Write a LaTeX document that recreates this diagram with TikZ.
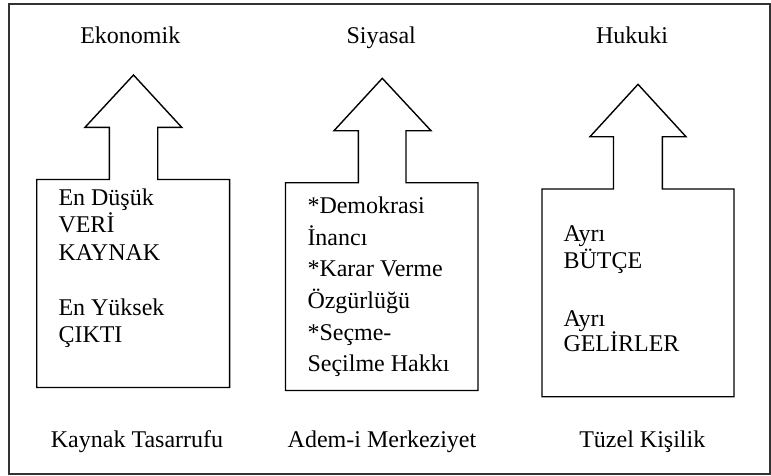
\documentclass[tikz,border=0pt]{standalone}
\usepackage{fontspec}
\setmainfont{Liberation Serif}
\newfontfamily\tnr{Liberation Serif}
\begin{document}
\begin{tikzpicture}[x=1pt,y=-1pt,
  lbl/.style={font=\tnr\fontsize{24}{27.6}\selectfont, inner sep=0pt},
  linetxt/.style={lbl, anchor=base west},
  toptxt/.style={lbl, anchor=base},
  arrowbox/.style={draw, line width=1.4pt, line join=miter}]
\useasboundingbox (0,0) rectangle (771,475);
\draw[line width=2pt, black!80] (9,3.5) rectangle (769.5,473.5);

% arrow-boxes
\draw[arrowbox] (36.7,387.5) -- (36.7,179.5) -- (109.3,179.5) -- (109.3,127.3) -- (85,127.3)
  -- (133.5,75) -- (181.7,127.3) -- (157.7,127.3) -- (157.7,179.5) -- (229.6,179.5) -- (229.6,387.5) -- cycle;
\draw[arrowbox] (285.5,390.5) -- (285.5,182.7) -- (358.3,182.7) -- (358.3,130.7) -- (334,130.7)
  -- (382.3,78.3) -- (431,130.7) -- (406,130.7) -- (406,182.7) -- (478,182.7) -- (478,390.5) -- cycle;
\draw[arrowbox] (542,396.7) -- (542,189) -- (613.5,189) -- (613.5,136.7) -- (590,136.7)
  -- (638,84.3) -- (686,136.7) -- (662.3,136.7) -- (662.3,189) -- (734,189) -- (734,396.7) -- cycle;

% top labels
\node[toptxt] (eko) at (130.3,43.3) {Ekonomik};
\node[toptxt] (siy) at (381.2,43.3) {Siyasal};
\node[toptxt] (huk) at (632,43.3) {Hukuki};

% bottom labels
\node[toptxt] (kay) at (137,447) {Kaynak Tasarrufu};
\node[toptxt] (adem) at (382,447) {Adem-i Merkeziyet};
\node[toptxt] (tuz) at (642.3,447) {Tüzel Kişilik};

% box 1 text
\node[linetxt] (a1) at (58.3,205.7) {En Düşük};
\node[linetxt] (a2) at (58.3,232.7) {VERİ};
\node[linetxt] (a3) at (58.3,260) {KAYNAK};
\node[linetxt] (a4) at (58.3,315) {En Yüksek};
\node[linetxt] (a5) at (58.3,342.7) {ÇIKTI};

% box 2 text
\node[linetxt] (b1) at (307.3,213.3) {*Demokrasi};
\node[linetxt] (b2) at (307.3,245) {İnancı};
\node[linetxt] (b3) at (307.3,276.7) {*Karar Verme};
\node[linetxt] (b4) at (307.3,308.4) {Özgürlüğü};
\node[linetxt] (b5) at (307.3,340.1) {*Seçme-};
\node[linetxt] (b6) at (307.3,371.8) {Seçilme Hakkı};

% box 3 text
\node[linetxt] (c1) at (563.3,241.7) {Ayrı};
\node[linetxt] (c2) at (563.3,268.3) {BÜTÇE};
\node[linetxt] (c3) at (563.3,326.7) {Ayrı};
\node[linetxt] (c4) at (563.3,351.7) {GELİRLER};
\end{tikzpicture}
\end{document}
